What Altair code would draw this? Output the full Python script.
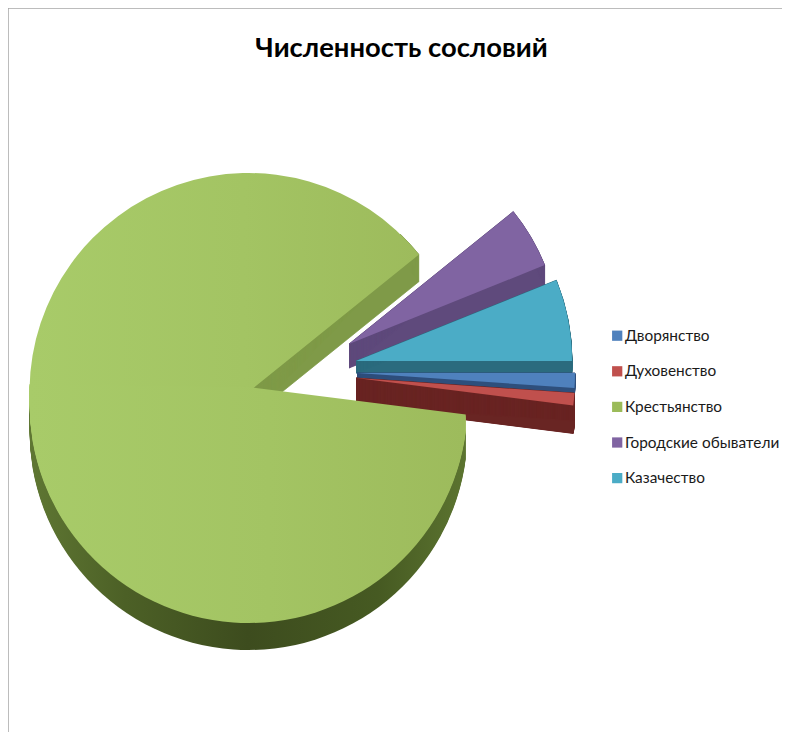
import math
import altair as alt
import pandas as pd

# --- chart values -----------------------------------------------------------
title_text = "Численность сословий"
categories = ["Дворянство", "Духовенство", "Крестьянство", "Городские обыватели", "Казачество"]
shares = [1.1, 0.9, 87.2, 4.7, 6.1]
colors = ["#4f81bd", "#c0504d", "#9bbb59", "#8064a2", "#4bacc6"]

# --- layout -----------------------------------------------------------------
W, H = 774, 724
OX, OY = 8, 8            # page margin: picture coordinate -> plot coordinate
FONT = "Lato"

starts = {}
ends = {}
running = 0.0
for name, share in zip(categories, shares):
    starts[name] = running
    ends[name] = running + share
    running += share

THETA = alt.Scale(domain=[0, 100], range=[math.pi / 2, math.pi / 2 + 2 * math.pi])
green, purple, cyan = categories[2], categories[3], categories[4]
blue, red = categories[0], categories[1]


def solid(name, cx, cy, depth, radius, fill, lo=None, hi=None, step=1.0, encode_color=False):
    """A wedge extruded straight downward by `depth` pixels."""
    lo = starts[name] if lo is None else lo
    hi = ends[name] if hi is None else hi
    count = int(round(depth / step))
    rows = [
        {"category": name, "start": lo, "end": hi, "px": cx - OX, "py": cy - OY + i * step}
        for i in range(count + 1)
    ]
    enc = dict(
        x=alt.X("px:Q", scale=None, axis=None),
        y=alt.Y("py:Q", scale=None, axis=None),
        theta=alt.Theta("start:Q", scale=THETA),
        theta2=alt.Theta2("end:Q"),
    )
    if encode_color:
        enc["color"] = alt.Color(
            "category:N",
            scale=alt.Scale(domain=categories, range=colors),
            legend=alt.Legend(
                title=None,
                orient="none",
                legendX=601.5,
                legendY=320,
                symbolType="square",
                symbolSize=105,
                symbolStrokeWidth=0,
                labelFont=FONT,
                labelFontSize=15.4,
                labelColor="#1a1a1a",
                labelOffset=0,
                rowPadding=18.6,
            ),
        )
        return alt.Chart(pd.DataFrame(rows)).mark_arc(outerRadius=radius, innerRadius=0).encode(**enc)
    if isinstance(fill, str) and depth > 0:
        # walls: a hairline of the same colour closes the seams between the steps
        mark = alt.Chart(pd.DataFrame(rows)).mark_arc(
            outerRadius=radius, innerRadius=0, fill=fill, stroke=fill, strokeWidth=0.8)
    else:
        mark = alt.Chart(pd.DataFrame(rows)).mark_arc(outerRadius=radius, innerRadius=0, fill=fill)
    return mark.encode(**enc)


def h_gradient(stops):
    return alt.Gradient(
        gradient="linear", x1=0, y1=0, x2=1, y2=0,
        stops=[alt.GradientStop(offset=o, color=c) for o, c in stops],
    )


rim_fill = h_gradient([(0, "#5f7733"), (0.22, "#4c6026"), (0.5, "#3d4c1e"),
                       (0.8, "#465a22"), (1, "#5c7430")])
face_fill = h_gradient([(0, "#a8cb69"), (0.55, "#a3c463"), (1, "#9dbb5c")])

g_mid = starts[green] + (ends[green] - starts[green]) * 0.553   # bottom half ends at the 9 o'clock point
g_wall = ends[green] - 2.0

frame_top = alt.Chart(pd.DataFrame({"a": [0]})).mark_rule(color="#a6a6a6", strokeWidth=1.5).encode(
    x=alt.value(0), x2=alt.value(W), y=alt.value(0))
frame_left = alt.Chart(pd.DataFrame({"a": [0]})).mark_rule(color="#a6a6a6", strokeWidth=1.5).encode(
    x=alt.value(0), y=alt.value(0), y2=alt.value(H))

title = alt.Chart(pd.DataFrame({"t": [title_text]})).mark_text(
    font=FONT, fontSize=27.4, fontWeight="bold", color="#000000", align="center", baseline="middle"
).encode(text="t:N", x=alt.value(401.5 - OX), y=alt.value(49 - OY))

GX, R = 248.5, 219
layers = [
    frame_top, frame_left, title,
    # purple
    solid(purple, 349, 344, 24, 211, "#5f4a7c", step=0.5),
    solid(purple, 349, 344, 0, 211, "#8064a2", encode_color=True),
    # cyan
    solid(cyan, 356, 361, 12, 216, "#2b6b7e", step=0.5),
    solid(cyan, 356, 361, 0, 216, colors[4]),
    # blue
    solid(blue, 357, 373, 6, 218, "#2e4f7c", step=0.25),
    solid(blue, 357, 373, 0, 218, colors[0]),
    # red
    solid(red, 356, 378, 28, 219, "#692523", step=0.25),
    solid(red, 356, 378, 0, 219, colors[1]),
    # green: rim, cut wall, face
    solid(green, GX, 404, 27, R, rim_fill, hi=g_mid),
    solid(green, GX, 392, 27, R, "#7f9a48", lo=g_wall),
    solid(green, GX, 392, 0, R, face_fill, lo=g_mid),
    solid(green, GX, 387, 17, R, face_fill, hi=g_mid),
]

chart = alt.layer(*layers).properties(
    width=W, height=H, padding=0, background="#ffffff", autosize=alt.AutoSizeParams(type="none")
).configure_view(stroke=None)

chart.save("out.html", embed_options={"renderer": "svg", "actions": False})
